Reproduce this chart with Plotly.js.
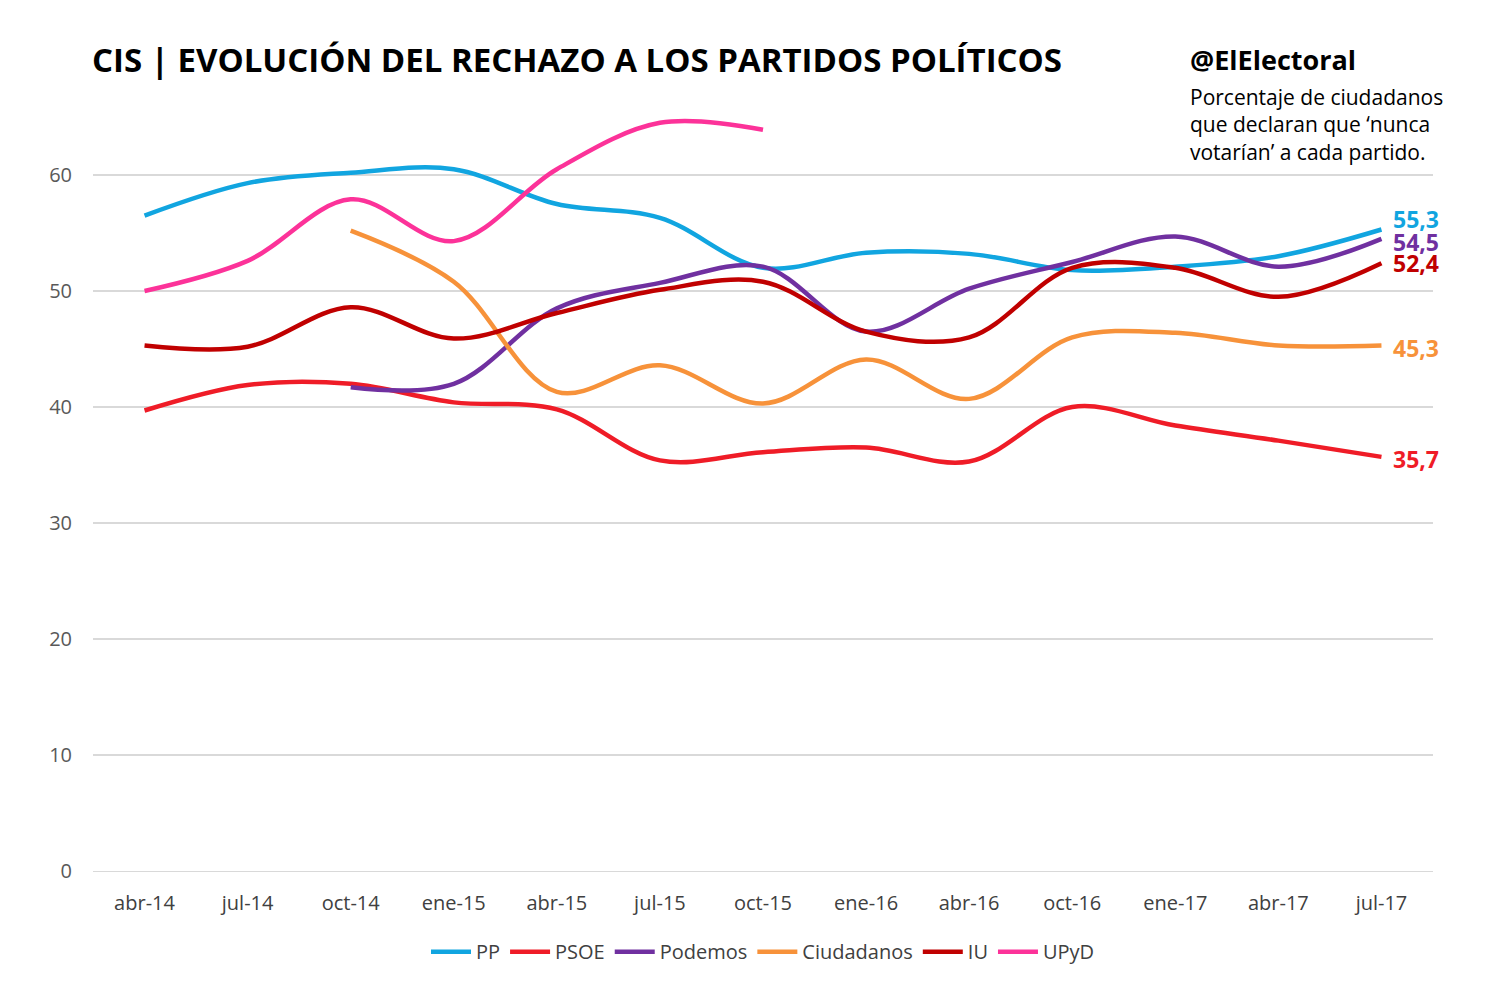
<!DOCTYPE html>
<html>
<head>
<meta charset="utf-8">
<script src="https://cdn.plot.ly/plotly-3.0.1.min.js"></script>
<style>body{margin:0;background:#fff}#plot{width:1500px;height:1001px}</style>
</head>
<body>
<div id="plot"></div>
<script>
// quarterly CIS surveys, % who would "never vote" each party
const fechas = ['abr-14','jul-14','oct-14','ene-15','abr-15','jul-15','oct-15','ene-16','abr-16','oct-16','ene-17','abr-17','jul-17'];
const pp        = [56.5, 59.3, 60.2, 60.5, 57.5, 56.3, 52.0, 53.3, 53.2, 51.8, 52.1, 53.0, 55.3];
const psoe      = [39.7, 41.9, 42.0, 40.4, 39.8, 35.4, 36.1, 36.5, 35.3, 40.0, 38.4, 37.1, 35.7];
const podemos   = [null, null, 41.7, 42.0, 48.5, 50.7, 52.1, 46.5, 50.2, 52.5, 54.7, 52.1, 54.5];
const ciudadanos= [null, null, 55.2, 50.8, 41.3, 43.6, 40.3, 44.1, 40.7, 46.0, 46.4, 45.3, 45.3];
const iu        = [45.3, 45.2, 48.6, 45.9, 48.1, 50.1, 50.8, 46.5, 46.0, 52.0, 52.0, 49.5, 52.4];
const upyd      = [50.0, 52.6, 57.9, 54.3, 60.5, 64.5, 63.9, null, null, null, null, null, null];

const series = [
  ['PP', pp, '#11a5e0'],
  ['PSOE', psoe, '#ef1c27'],
  ['Podemos', podemos, '#7030a0'],
  ['Ciudadanos', ciudadanos, '#f7923a'],
  ['IU', iu, '#c00000'],
  ['UPyD', upyd, '#fc3299']
];

const traces = series.map(([name, y, color]) => ({
  x: fechas, y: y, name: name, type: 'scatter', mode: 'lines',
  line: {color: color, width: 4.5, shape: 'spline', smoothing: 1.0},
  connectgaps: false
}));

// end-of-line value labels (with small nudges to keep them apart)
const endLabels = [[pp, '#11a5e0', 11], [podemos, '#7030a0', -3], [iu, '#c00000', 0], [ciudadanos, '#f7923a', -2], [psoe, '#ef1c27', -2]];
const annotations = endLabels.map(([y, color, dy]) => ({
  x: fechas[12], y: y[12], xref: 'x', yref: 'y', xanchor: 'left', xshift: 10, yshift: dy,
  text: '<b>' + y[12].toFixed(1).replace('.', ',') + '</b>', showarrow: false,
  font: {size: 23, color: color}
}));
annotations.push({
  xref: 'paper', yref: 'paper', x: -0.002, y: 1.0756, xanchor: 'left', yanchor: 'middle',
  text: '<b>CIS | EVOLUCIÓN DEL RECHAZO A LOS PARTIDOS POLÍTICOS</b>', showarrow: false,
  font: {size: 33, color: '#000'}
});
annotations.push({
  xref: 'paper', yref: 'paper', x: 0.817, y: 1.0756, xanchor: 'left', yanchor: 'middle',
  text: '<b>@ElElectoral</b>', showarrow: false, font: {size: 27, color: '#000'}
});
annotations.push({
  xref: 'paper', yref: 'paper', x: 0.817, y: 1.048, xanchor: 'left', yanchor: 'top', align: 'left',
  text: 'Porcentaje de ciudadanos<br>que declaran que ‘nunca<br>votarían’ a cada partido.', showarrow: false,
  font: {size: 21, color: '#000'}
});

const layout = {
  width: 1500, height: 1001,
  margin: {l: 93, r: 67, t: 117, b: 130},
  font: {family: 'Open Sans, sans-serif', color: '#595959', size: 20},
  paper_bgcolor: '#fff', plot_bgcolor: '#fff',
  xaxis: {type: 'category', range: [-0.5, 12.5], showgrid: false, showline: true, linecolor: '#d9d9d9',
          ticks: '', tickfont: {size: 20, color: '#404040'}, ticklabelstandoff: 14},
  yaxis: {range: [0, 65], dtick: 10, showgrid: true, gridcolor: '#d9d9d9', gridwidth: 1.5,
          zeroline: false, ticks: '', tickfont: {size: 20, color: '#595959'}, ticklabelstandoff: 20},
  legend: {orientation: 'h', x: 0.5, xanchor: 'center', y: -0.107, yanchor: 'middle',
           font: {size: 20, color: '#404040'}, itemwidth: 40, tracegroupgap: 0},
  annotations: annotations,
  showlegend: true
};

Plotly.newPlot('plot', traces, layout, {displayModeBar: false});
</script>
</body>
</html>
